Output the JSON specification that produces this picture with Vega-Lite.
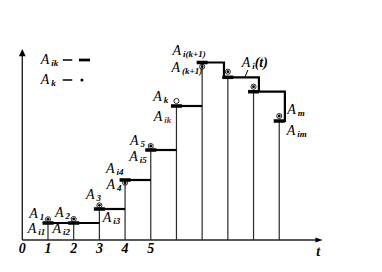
{
  "$schema": "https://vega.github.io/schema/vega-lite/v6.json",
  "width": 382,
  "height": 272,
  "autosize": {"type": "fit", "contains": "padding"},
  "padding": 0,
  "background": "white",
  "config": {"view": {"stroke": null}, "font": "Liberation Serif"},
  "datasets": {
    "levels": [
      {"t": 1, "ai": 1.7, "ak": 2.07},
      {"t": 2, "ai": 1.7, "ak": 2.1},
      {"t": 3, "ai": 3.1, "ak": 3.47},
      {"t": 4, "ai": 6.0, "ak": 5.73},
      {"t": 5, "ai": 9.0, "ak": 9.4},
      {"t": 6, "ai": 13.4, "ak": 13.9},
      {"t": 7, "ai": 17.75, "ak": 17.33},
      {"t": 8, "ai": 16.27, "ak": 16.83},
      {"t": 9, "ai": 14.83, "ak": 15.33},
      {"t": 10, "ai": 11.9, "ak": 12.4}
    ],
    "tops": [
      {"t": 1, "t2": 3, "v": 1.7},
      {"t": 3, "t2": 4, "v": 3.1},
      {"t": 4, "t2": 5, "v": 6.0},
      {"t": 5, "t2": 6, "v": 9.0},
      {"t": 6, "t2": 7, "v": 13.4}
    ],
    "outline": [
      {"o": 1, "t": 7, "v": 17.75},
      {"o": 2, "t": 7.85, "v": 17.75},
      {"o": 3, "t": 7.85, "v": 16.27},
      {"o": 4, "t": 9.21, "v": 16.27},
      {"o": 5, "t": 9.21, "v": 14.83},
      {"o": 6, "t": 10.22, "v": 14.83},
      {"o": 7, "t": 10.22, "v": 11.9}
    ],
    "axes": [
      {"t": 0, "v": 0, "t2": 0, "v2": 18.4},
      {"t": 0, "v": 0, "t2": 11.43, "v2": 0}
    ],
    "arrows": [
      {"t": 0, "v": 18.73, "dir": "up"},
      {"t": 11.55, "v": 0, "dir": "right"}
    ],
    "leader": [
      {"t": 8.78, "v": 17.0, "t2": 8.67, "v2": 16.33}
    ],
    "labels": [
      {"t": 0.27, "v": 2.57, "sub": "1"},
      {"t": 0.21, "v": 1.07, "sub": "i1"},
      {"t": 1.27, "v": 2.7, "sub": "2"},
      {"t": 1.18, "v": 1.07, "sub": "i2"},
      {"t": 2.48, "v": 4.5, "sub": "3"},
      {"t": 3.13, "v": 2.17, "sub": "i3"},
      {"t": 3.28, "v": 5.55, "sub": "4"},
      {"t": 3.26, "v": 7.15, "sub": "i4"},
      {"t": 4.19, "v": 9.93, "sub": "5"},
      {"t": 4.16, "v": 8.33, "sub": "i5"},
      {"t": 5.1, "v": 14.33, "sub": "k"},
      {"t": 5.12, "v": 12.27, "sub": "ik"},
      {"t": 5.85, "v": 18.9, "sub": "i(k+1)"},
      {"t": 5.81, "v": 17.17, "sub": "(k+1)"},
      {"t": 8.54, "v": 17.73, "sub": "i"},
      {"t": 10.31, "v": 13.0, "sub": "m"},
      {"t": 10.29, "v": 10.93, "sub": "im"},
      {"t": 0.72, "v": 18.0, "sub": "ik"},
      {"t": 0.72, "v": 16.0, "sub": "k"}
    ],
    "words": [
      {"t": 0, "v": -0.93, "text": "0"},
      {"t": 1, "v": -0.93, "text": "1"},
      {"t": 2, "v": -0.93, "text": "2"},
      {"t": 3, "v": -0.93, "text": "3"},
      {"t": 4, "v": -0.93, "text": "4"},
      {"t": 5, "v": -0.93, "text": "5"},
      {"t": 11.52, "v": -1.17, "text": "t"},
      {"t": 9.3, "v": 17.73, "text": "(t)"}
    ],
    "legend": [
      {"t": 1.76, "v": 18.0, "item": "dash"},
      {"t": 2.42, "v": 18.0, "item": "bar"},
      {"t": 1.76, "v": 16.0, "item": "dash"},
      {"t": 2.32, "v": 16.0, "item": "dot"}
    ]
  },
  "encoding": {
    "x": {"field": "t", "type": "quantitative", "scale": {"domain": [-0.868, 14.0], "nice": false, "zero": false}, "axis": null},
    "y": {"field": "v", "type": "quantitative", "scale": {"domain": [-3.2, 24], "nice": false, "zero": false}, "axis": null}
  },
  "layer": [
    {
      "data": {"name": "axes"},
      "mark": {"type": "rule", "color": "#222", "strokeWidth": 1.4},
      "encoding": {"x2": {"field": "t2"}, "y2": {"field": "v2"}}
    },
    {
      "data": {"name": "arrows"},
      "mark": {"type": "point", "filled": true, "color": "#000", "opacity": 1},
      "encoding": {
        "shape": {"field": "dir", "type": "nominal", "scale": {"domain": ["up", "right"], "range": ["M0,-1L0.94,1L-0.94,1Z", "M1,0L-1,-0.72L-1,0.72Z"]}, "legend": null},
        "size": {"value": 52}
      }
    },
    {
      "data": {"name": "levels"},
      "mark": {"type": "rule", "color": "#2a2a2a", "strokeWidth": 1.2},
      "encoding": {"y": {"field": "ai", "type": "quantitative"}, "y2": {"datum": 0}}
    },
    {
      "data": {"name": "tops"},
      "mark": {"type": "rule", "color": "#000", "strokeWidth": 2.2},
      "encoding": {"x2": {"field": "t2"}}
    },
    {
      "data": {"name": "outline"},
      "mark": {"type": "line", "color": "#000", "strokeWidth": 2.2, "strokeJoin": "miter", "strokeCap": "square"},
      "encoding": {"order": {"field": "o", "type": "quantitative"}}
    },
    {
      "data": {"name": "levels"},
      "mark": {"type": "point", "filled": true, "color": "#000", "opacity": 1, "shape": "M-1,-0.32H1V0.32H-1Z", "size": 121},
      "encoding": {"y": {"field": "ai", "type": "quantitative"}}
    },
    {
      "data": {"name": "levels"},
      "mark": {"type": "point", "filled": false, "color": "#111", "strokeWidth": 0.9, "opacity": 1, "shape": "circle", "size": 26},
      "encoding": {"y": {"field": "ak", "type": "quantitative"}}
    },
    {
      "data": {"name": "levels"},
      "transform": [{"filter": "datum.t != 6"}],
      "mark": {"type": "point", "filled": true, "color": "#000", "opacity": 1, "shape": "circle", "size": 8},
      "encoding": {"y": {"field": "ak", "type": "quantitative"}}
    },
    {
      "data": {"name": "leader"},
      "mark": {"type": "rule", "color": "#000", "strokeWidth": 1},
      "encoding": {"x2": {"field": "t2"}, "y2": {"field": "v2"}}
    },
    {
      "data": {"name": "legend"},
      "transform": [{"filter": "datum.item === 'dash'"}],
      "mark": {"type": "point", "filled": true, "color": "#000", "opacity": 1, "shape": "M-1,-0.16H1V0.16H-1Z", "size": 90}
    },
    {
      "data": {"name": "legend"},
      "transform": [{"filter": "datum.item === 'bar'"}],
      "mark": {"type": "point", "filled": true, "color": "#000", "opacity": 1, "shape": "M-1,-0.25H1V0.25H-1Z", "size": 121}
    },
    {
      "data": {"name": "legend"},
      "transform": [{"filter": "datum.item === 'dot'"}],
      "mark": {"type": "point", "filled": true, "color": "#000", "opacity": 1, "shape": "circle", "size": 9}
    },
    {
      "data": {"name": "labels"},
      "mark": {"type": "text", "align": "left", "baseline": "middle", "fontSize": 14, "fontStyle": "italic", "color": "#000"},
      "encoding": {"text": {"value": "A"}}
    },
    {
      "data": {"name": "labels"},
      "mark": {"type": "text", "align": "left", "baseline": "middle", "fontSize": 9, "fontStyle": "italic", "fontWeight": "bold", "dx": 10.5, "dy": 3},
      "encoding": {
        "text": {"field": "sub"},
        "color": {"condition": {"test": "datum.sub === 'ik' && datum.t > 5", "value": "#a31515"}, "value": "#000"}
      }
    },
    {
      "data": {"name": "words"},
      "mark": {"type": "text", "align": "center", "baseline": "middle", "fontSize": 14, "fontStyle": "italic", "fontWeight": "bold", "color": "#000"},
      "encoding": {"text": {"field": "text"}}
    }
  ]
}
